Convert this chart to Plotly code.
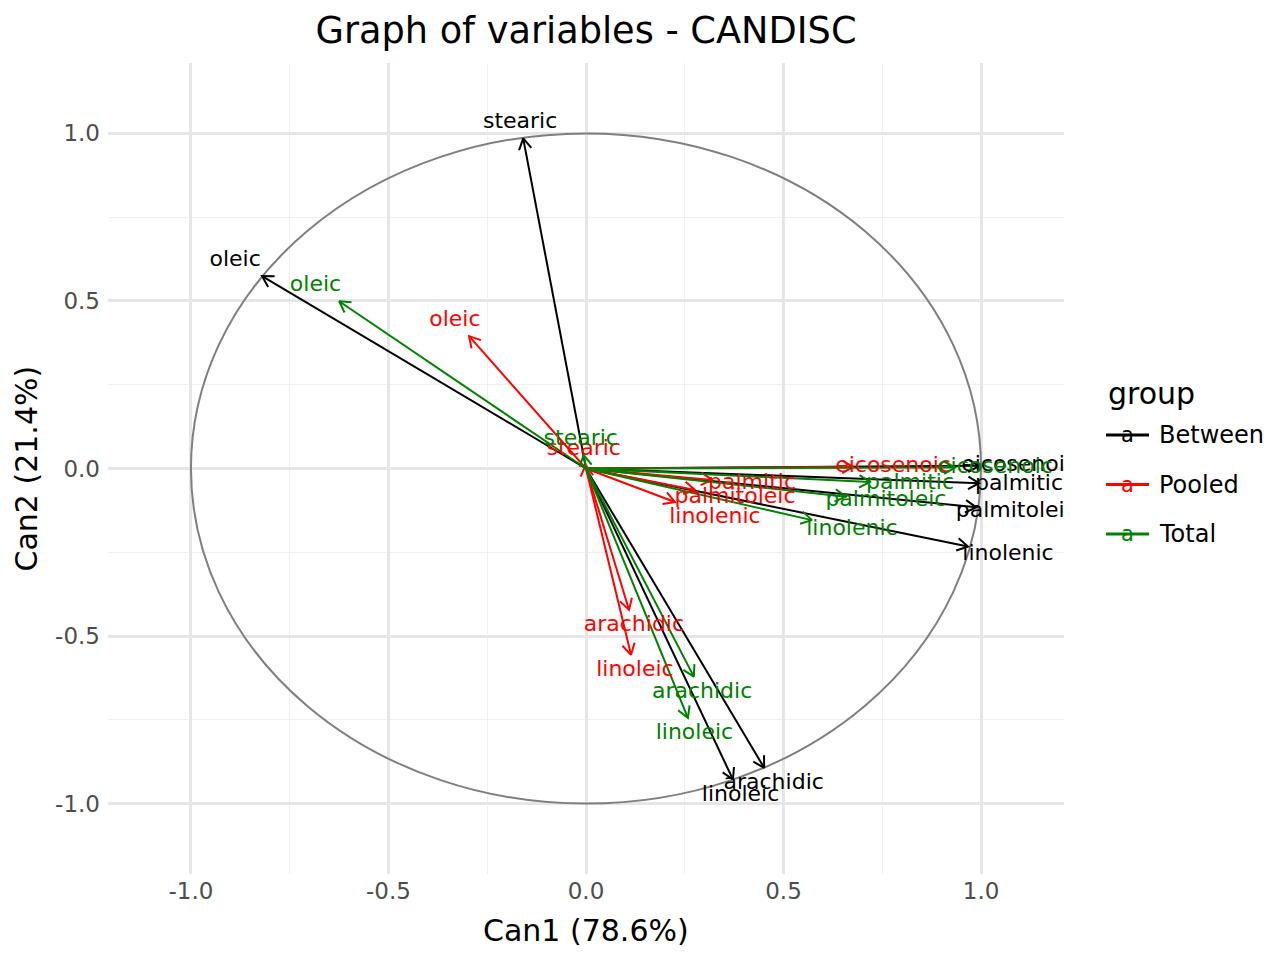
import math
import plotly.graph_objects as go

# ---------------- data ----------------
variables = ["palmitic", "palmitoleic", "stearic", "oleic",
             "linoleic", "linolenic", "arachidic", "eicosenoic"]

between_can1 = [0.995, 0.988, -0.159, -0.820, 0.372, 0.967, 0.451, 0.995]
between_can2 = [-0.044, -0.116, 0.985, 0.574, -0.928, -0.233, -0.893, 0.008]

pooled_can1 = [0.319, 0.276, -0.001, -0.296, 0.114, 0.225, 0.109, 0.676]
pooled_can2 = [-0.034, -0.064, 0.010, 0.395, -0.556, -0.100, -0.422, 0.005]

total_can1 = [0.719, 0.658, -0.006, -0.625, 0.258, 0.572, 0.273, 0.934]
total_can2 = [-0.040, -0.084, 0.040, 0.499, -0.744, -0.154, -0.621, 0.003]

groups = ["Between", "Pooled", "Total"]
group_colors = ["#000000", "#FF0000", "#008000"]
group_can1 = [between_can1, pooled_can1, total_can1]
group_can2 = [between_can2, pooled_can2, total_can2]

tick_vals = [-1.0, -0.5, 0.0, 0.5, 1.0]
tick_text = ["-1.0", "-0.5", "0.0", "0.5", "1.0"]
minor_vals = [-0.75, -0.25, 0.25, 0.75]

title_text = "Graph of variables - CANDISC"
xlab = "Can1 (78.6%)"
ylab = "Can2 (21.4%)"
legend_title = "group"

# ---------------- layout geometry ----------------
W, H = 1280, 960
ML, MR, MT, MB = 108, 216, 63, 86
PW, PH = W - ML - MR, H - MT - MB
LIM = 1.21
sx = PW / (2 * LIM)
sy = PH / (2 * LIM)
FONT = "DejaVu Sans"

fig = go.Figure()


def unit_px(x, y):
    ux, uy = x * sx, y * sy
    n = math.hypot(ux, uy) or 1.0
    return ux / n, uy / n


def arrow_path(xs, ys, head=12.5, ang=math.radians(30)):
    px, py = [], []
    for x, y in zip(xs, ys):
        ux, uy = unit_px(x, y)
        px += [0, x, None]
        py += [0, y, None]
        for s in (1, -1):
            c, si = math.cos(s * ang), math.sin(s * ang)
            rx, ry = ux * c - uy * si, ux * si + uy * c
            hx = (x * sx - head * rx) / sx
            hy = (y * sy - head * ry) / sy
            px += [hx, x] if s == 1 else [x, hx, None]
            py += [hy, y] if s == 1 else [y, hy, None]
    return px, py


def label_xy(xs, ys, hx=40.0, hy=16.0):
    lx, ly = [], []
    for x, y in zip(xs, ys):
        ux, uy = unit_px(x, y)
        t = min(hx / max(abs(ux), 1e-6), hy / max(abs(uy), 1e-6))
        lx.append(x + ux * t / sx)
        ly.append(y + uy * t / sy)
    return lx, ly


for g, col, c1, c2 in zip(groups, group_colors, group_can1, group_can2):
    ax_, ay_ = arrow_path(c1, c2)
    fig.add_trace(go.Scatter(x=ax_, y=ay_, mode="lines",
                             line=dict(color=col, width=2),
                             hoverinfo="skip", showlegend=False))

for g, col, c1, c2 in zip(groups, group_colors, group_can1, group_can2):
    lx, ly = label_xy(c1, c2)
    fig.add_trace(go.Scatter(x=lx, y=ly, mode="text", text=variables,
                             textposition="middle center",
                             textfont=dict(family=FONT, size=22, color=col),
                             cliponaxis=True, hoverinfo="skip", showlegend=False))

shapes = [
    dict(type="circle", xref="x", yref="y", x0=-1, x1=1, y0=-1, y1=1,
         line=dict(color="#7F7F7F", width=2), layer="between"),
    dict(type="line", xref="x", yref="paper", x0=0, x1=0, y0=0, y1=1,
         line=dict(color="#6E6E6E", width=2, dash="8px,4px"), layer="between"),
    dict(type="line", xref="paper", yref="y", x0=0, x1=1, y0=0, y1=0,
         line=dict(color="#6E6E6E", width=2, dash="8px,4px"), layer="between"),
]

annotations = [
    dict(text=xlab, xref="paper", yref="paper", x=0.5, y=(874 - 931) / PH,
         showarrow=False, font=dict(family=FONT, size=30, color="black"),
         xanchor="center", yanchor="middle"),
    dict(text=ylab, xref="paper", yref="paper", x=(26 - ML) / PW, y=0.5,
         showarrow=False, textangle=-90, font=dict(family=FONT, size=30, color="black"),
         xanchor="center", yanchor="middle"),
]


def px2paper(px, py):
    return (px - ML) / PW, (874 - py) / PH


# manual legend
lx0, ly0 = px2paper(1106, 393)
annotations.append(dict(text=legend_title, xref="paper", yref="paper", x=lx0, y=ly0,
                        showarrow=False, xanchor="left", yanchor="middle",
                        font=dict(family=FONT, size=30, color="black")))
for i, (g, col) in enumerate(zip(groups, group_colors)):
    cy = 435 + 49.5 * i
    x0, yy = px2paper(1106, cy)
    x1, _ = px2paper(1149, cy)
    shapes.append(dict(type="line", xref="paper", yref="paper", x0=x0, x1=x1,
                       y0=yy, y1=yy, line=dict(color=col, width=3), layer="above"))
    xa, _ = px2paper(1127.5, cy)
    annotations.append(dict(text="a", xref="paper", yref="paper", x=xa, y=yy,
                            showarrow=False, xanchor="center", yanchor="middle",
                            font=dict(family=FONT, size=21, color=col)))
    xt, _ = px2paper(1157, cy)
    annotations.append(dict(text=g, xref="paper", yref="paper", x=xt, y=yy,
                            showarrow=False, xanchor="left", yanchor="middle",
                            font=dict(family=FONT, size=24, color="black")))

axis_common = dict(
    range=[-LIM, LIM], tickvals=tick_vals, ticktext=tick_text,
    showgrid=True, gridcolor="#E6E6E6", gridwidth=2.5,
    zeroline=False, showline=False, ticks="",
    tickfont=dict(family=FONT, size=23, color="#4D4D4D"),
    minor=dict(tickvals=minor_vals, showgrid=True, gridcolor="#F0F0F0", gridwidth=1.2),
    fixedrange=True,
)

fig.update_layout(
    width=W, height=H,
    margin=dict(l=ML, r=MR, t=MT, b=MB),
    paper_bgcolor="white", plot_bgcolor="white",
    font=dict(family=FONT, color="black"),
    title=dict(text=title_text, x=0.5, xref="paper", xanchor="center",
               y=1 - 30 / H, yref="container", yanchor="middle",
               font=dict(family=FONT, size=36.7, color="black")),
    xaxis=dict(**axis_common, ticklabelstandoff=1),
    yaxis=dict(**axis_common, ticklabelstandoff=7),
    shapes=shapes, annotations=annotations,
    showlegend=False,
)

fig.write_html("out.html")
